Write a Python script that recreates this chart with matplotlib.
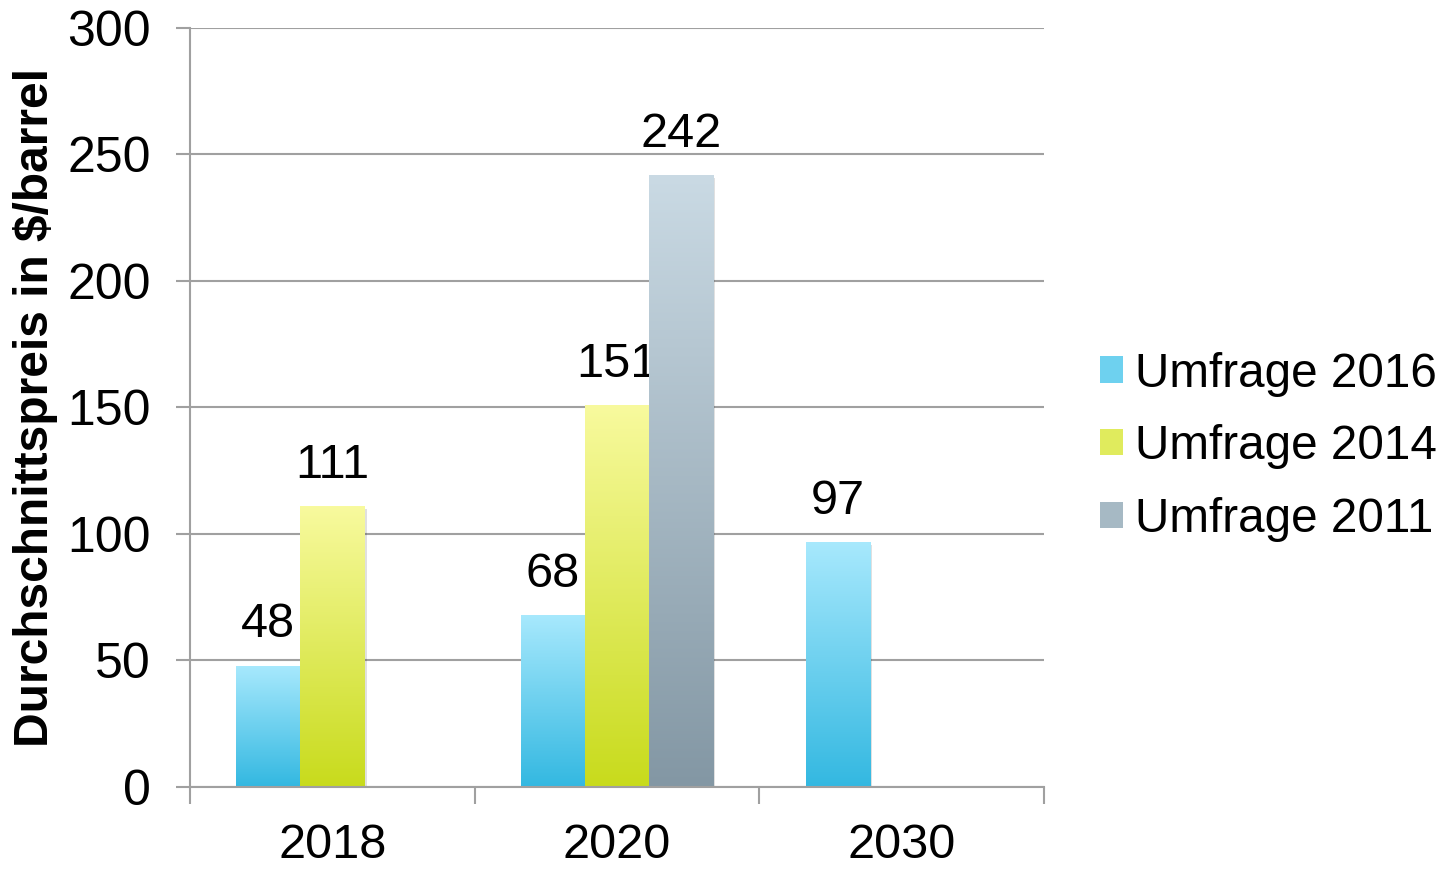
import numpy as np
import matplotlib.pyplot as plt
from matplotlib.patches import Patch

plt.rcParams['font.family'] = ['Liberation Sans', 'DejaVu Sans']

# data
years = ['2018', '2020', '2030']
series = ['Umfrage 2016', 'Umfrage 2014', 'Umfrage 2011']
u2016 = [48, 68, 97]
u2014 = [111, 151, np.nan]
u2011 = [np.nan, 242, np.nan]

# gradient colours (top, bottom)
grads = [('#a8e9fd', '#33b8e1'), ('#f8fa9e', '#c8db1c'), ('#cadae4', '#8397a4')]

fig = plt.figure(figsize=(14.54, 8.69), dpi=100)
ax = fig.add_axes([0.1307, 0.0944, 0.5873, 0.8734])

x = np.arange(len(years))
w = 0.225
offsets = [-w, 0, w]

def grad_img(c_top, c_bot, n=256):
    t = np.linspace(0, 1, n)[:, None]
    a = np.array(plt.matplotlib.colors.to_rgb(c_top))
    b = np.array(plt.matplotlib.colors.to_rgb(c_bot))
    img = a * (1 - t) + b * t
    return img[:, None, :]

for vals, off, (ct, cb) in zip([u2016, u2014, u2011], offsets, grads):
    for xi, v in zip(x, vals):
        if np.isnan(v):
            continue
        x0 = xi + off - w / 2
        # soft shadow
        ax.bar(xi + off + 0.008, v, w, bottom=-1.2, color='#000000', alpha=0.12,
               zorder=2, linewidth=0)
        bar = ax.bar(xi + off, v, w, color='none', linewidth=0, zorder=3)[0]
        im = ax.imshow(grad_img(ct, cb), extent=[x0, x0 + w, 0, v],
                       aspect='auto', zorder=3, interpolation='bilinear')
        im.set_clip_path(bar)
        ax.annotate(str(int(v)), (xi + off, v), xytext=(0, 13),
                    textcoords='offset points', ha='center', va='bottom',
                    fontsize=35)

ax.set_xlim(-0.5, 2.5)
ax.set_ylim(0, 300)
ax.set_yticks(range(0, 301, 50))
ax.set_xticks(x)
ax.set_xticklabels(years)
ax.set_xticks([-0.5, 0.5, 1.5, 2.5], minor=True)
ax.tick_params(axis='x', which='major', length=0, pad=26, labelsize=35)
ax.tick_params(axis='x', which='minor', length=12, width=1.5, color='#a0a0a0')
ax.tick_params(axis='y', length=10, width=1.5, color='#a0a0a0', labelsize=36, pad=18)
ax.grid(axis='y', color='#a0a0a0', linewidth=1.5, zorder=0)
ax.set_axisbelow(True)
for s in ['top', 'right']:
    ax.spines[s].set_visible(False)
for s in ['left', 'bottom']:
    ax.spines[s].set_color('#a0a0a0')
    ax.spines[s].set_linewidth(1.5)
ax.spines['bottom'].set_zorder(4)
ax.set_ylabel('Durchschnittspreis in $/barrel', fontsize=34.5, fontweight='bold',
              va='center')
ax.yaxis.set_label_coords(-0.181, 0.5)

handles = [Patch(facecolor=(np.array(plt.matplotlib.colors.to_rgb(a)) +
                            np.array(plt.matplotlib.colors.to_rgb(b))) / 2)
           for a, b in grads]
fig.legend(handles, series, loc='center left', bbox_to_anchor=(0.74, 0.486),
           frameon=False, fontsize=34.3, handlelength=0.48, handleheight=0.48,
           handletextpad=0.25, labelspacing=0.58, borderpad=0)

fig.savefig('out.png', dpi=100)
